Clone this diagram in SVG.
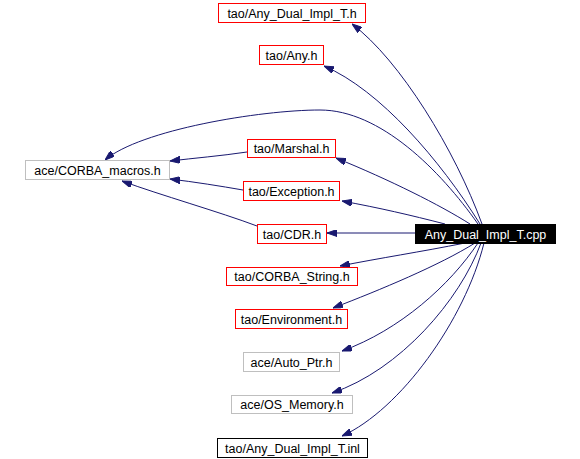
<svg xmlns="http://www.w3.org/2000/svg" width="580" height="459" viewBox="0 0 580 459">
<style>
.n rect{fill:#fff;stroke-width:1}
.red rect{stroke:#ff0000}
.grey rect{stroke:#bfbfbf}
.blk rect{stroke:#000}
text{font-family:"Liberation Sans",Arial,sans-serif;font-size:12.5px;text-anchor:middle;fill:#000}
#main rect{fill:#000;stroke:#000}
#main text{fill:#fff}
.e path{fill:none;stroke:#191970;stroke-width:1;marker-end:url(#ah)}
</style>
<defs>
<marker id="ah" viewBox="0 0 10 7" refX="10" refY="3.5" markerWidth="10" markerHeight="7" markerUnits="userSpaceOnUse" orient="auto">
<path d="M0,0 L10,3.5 L0,7 z" fill="#191970" stroke="#191970"/>
</marker>
</defs>
<rect width="580" height="459" fill="#fff"/>
<g class="e" id="edges">
<path d="M482,224 C455,150 400,60 352,24"/>
<path d="M480,224 C440,160 380,90 324,66"/>
<path d="M478,224 C440,170 380,110 320,110 C260,110 140,130 105,160"/>
<path d="M470,224 C440,205 390,180 336,158"/>
<path d="M445,224 C410,215 380,208 342,201"/>
<path d="M415,233 L327,233"/>
<path d="M465,243 C420,252 380,258 340,266"/>
<path d="M475,243 C440,265 380,290 333,308"/>
<path d="M478,243 C450,285 400,330 342,351"/>
<path d="M481,243 C460,300 400,370 332,393"/>
<path d="M484,243 C465,320 400,410 342,436"/>
<path d="M247,152 C220,156 195,158 170,161"/>
<path d="M243,190 C220,186 195,182 170,179"/>
<path d="M257,226 C220,212 160,195 122,181"/>
</g>
<g id="main" class="n"><rect x="415.5" y="224.5" width="140" height="19"/><text x="485.5" y="238.5">Any_Dual_Impl_T.cpp</text></g>
<g id="n1" class="n red"><rect x="218.5" y="3.5" width="147" height="19"/><text x="292" y="17.5">tao/Any_Dual_Impl_T.h</text></g>
<g id="n2" class="n red"><rect x="259.5" y="45.5" width="64" height="19"/><text x="291.5" y="59.5">tao/Any.h</text></g>
<g id="n3" class="n grey"><rect x="25.5" y="160.5" width="144" height="19"/><text x="97.5" y="174.5">ace/CORBA_macros.h</text></g>
<g id="n4" class="n red"><rect x="247.5" y="139.5" width="88" height="18"/><text x="291.5" y="153">tao/Marshal.h</text></g>
<g id="n5" class="n red"><rect x="243.5" y="181.5" width="96" height="19"/><text x="291.5" y="195.5">tao/Exception.h</text></g>
<g id="n6" class="n red"><rect x="257.5" y="224.5" width="69" height="19"/><text x="292" y="238.5">tao/CDR.h</text></g>
<g id="n7" class="n red"><rect x="226.5" y="267.5" width="131" height="18"/><text x="292" y="281">tao/CORBA_String.h</text></g>
<g id="n8" class="n red"><rect x="235.5" y="309.5" width="112" height="19"/><text x="291.5" y="323.5">tao/Environment.h</text></g>
<g id="n9" class="n grey"><rect x="243.5" y="352.5" width="96" height="19"/><text x="291.5" y="366.5">ace/Auto_Ptr.h</text></g>
<g id="n10" class="n grey"><rect x="231.5" y="395.5" width="121" height="18"/><text x="292" y="409">ace/OS_Memory.h</text></g>
<g id="n11" class="n blk"><rect x="217.5" y="438.5" width="150" height="19"/><text x="292.5" y="452.5">tao/Any_Dual_Impl_T.inl</text></g>
</svg>
